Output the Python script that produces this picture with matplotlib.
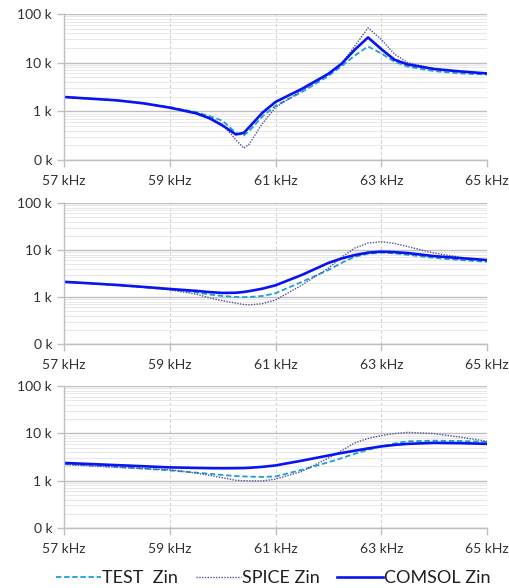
import numpy as np
import matplotlib
matplotlib.use("Agg")
import matplotlib.pyplot as plt
from matplotlib.ticker import FixedLocator, LogLocator, NullFormatter

plt.rcParams['font.family'] = ['Lato', 'DejaVu Sans']

freq = [57, 57.5, 58, 58.5, 59, 59.5, 59.75, 60, 60.25, 60.4, 60.5, 60.75,
        61, 61.5, 62, 62.25, 62.5, 62.75, 63, 63.25, 63.5, 64, 64.5, 65]

# panel 1
test_1 = [1970, 1820, 1690, 1480, 1220, 960, 800, 640, 360, 320, 390, 780,
          1300, 2500, 5300, 8500, 14000, 21500, 15500, 10500, 8300, 6700, 6000, 5700]
spice_1 = [1970, 1820, 1680, 1460, 1200, 940, 760, 540, 260, 175, 210, 560,
           1200, 2700, 5800, 9500, 22000, 52000, 30000, 15000, 10000, 7500, 6500, 6000]
comsol_1 = [1970, 1820, 1680, 1460, 1190, 910, 720, 510, 335, 360, 470, 930,
            1560, 2900, 5900, 9500, 18500, 33000, 19000, 11500, 9200, 7400, 6600, 6000]

# panel 2
test_2 = [2100, 1950, 1800, 1620, 1450, 1250, 1130, 1050, 1000, 990, 1000, 1050,
          1200, 2100, 3750, 5300, 7200, 8300, 8800, 8500, 7900, 6800, 6100, 5600]
spice_2 = [2100, 1950, 1780, 1600, 1420, 1150, 960, 830, 740, 690, 680, 720,
           860, 1800, 4100, 7000, 11000, 14000, 15000, 13800, 11800, 8600, 7000, 6100]
comsol_2 = [2100, 1950, 1800, 1640, 1480, 1350, 1270, 1220, 1230, 1280, 1330, 1500,
            1770, 2950, 5300, 6600, 7800, 8800, 9200, 9000, 8600, 7400, 6700, 6100]

# panel 3
test_3 = [2250, 2100, 1950, 1800, 1650, 1480, 1400, 1320, 1250, 1230, 1220, 1200,
          1230, 1700, 2450, 3000, 3700, 4500, 5300, 6100, 6800, 7000, 6900, 6600]
spice_3 = [2200, 2050, 1920, 1800, 1700, 1450, 1300, 1150, 1020, 1000, 990, 990,
           1080, 1570, 3000, 4300, 6300, 7800, 9000, 9900, 10500, 9900, 8300, 6800]
comsol_3 = [2370, 2250, 2130, 2020, 1910, 1860, 1840, 1830, 1840, 1850, 1870, 1960,
            2100, 2650, 3400, 3850, 4300, 4800, 5300, 5700, 6000, 6300, 6200, 6000]

x_ticks = [57, 59, 61, 63, 65]
x_labels = ["57 kHz", "59 kHz", "61 kHz", "63 kHz", "65 kHz"]
y_ticks = [100, 1000, 10000, 100000]
y_labels = ["0 k", "1 k", "10 k", "100 k"]

panels = [(test_1, spice_1, comsol_1),
          (test_2, spice_2, comsol_2),
          (test_3, spice_3, comsol_3)]

fig = plt.figure(figsize=(5.1, 5.88), dpi=100)
boxes = [(0.1255, 0.7279, 0.8294, 0.2483),
         (0.1255, 0.4150, 0.8294, 0.2398),
         (0.1255, 0.1020, 0.8294, 0.2415)]

grey = "#BFBFBF"
handles = None
for box, (t, s, c) in zip(boxes, panels):
    ax = fig.add_axes(box)
    ax.set_yscale("log")
    ax.set_ylim(100, 100000)
    ax.set_xlim(57, 65)
    ax.yaxis.set_major_locator(FixedLocator(y_ticks))
    ax.set_yticklabels(y_labels)
    ax.yaxis.set_minor_locator(LogLocator(base=10, subs=np.arange(2, 10)))
    ax.yaxis.set_minor_formatter(NullFormatter())
    ax.set_xticks(x_ticks)
    ax.set_xticklabels(x_labels)
    ax.grid(which="major", axis="y", color=grey, lw=1.0)
    ax.grid(which="minor", axis="y", color="#E8E8E8", lw=0.7)
    ax.grid(which="major", axis="x", color="#D0D0D0", lw=0.8, ls=(0, (3, 2)))
    ax.set_axisbelow(True)
    for sp in ["top", "right"]:
        ax.spines[sp].set_visible(False)
    for sp in ["left", "bottom"]:
        ax.spines[sp].set_color(grey)
        ax.spines[sp].set_linewidth(1.0)
    ax.tick_params(axis="both", which="major", colors=grey, labelcolor="#303030",
                   labelsize=10, length=5, width=1)
    ax.tick_params(axis="y", which="minor", length=0)
    ax.tick_params(axis="x", pad=6)
    l1, = ax.plot(freq, t, color="#1E9FDA", lw=1.3, ls=(0, (3, 1.5)), label="TEST  Zin")
    l2, = ax.plot(freq, s, color="#50509A", lw=1.0, ls=(0, (1, 1)), label="SPICE Zin")
    l3, = ax.plot(freq, c, color="#0A14F0", lw=1.9, label="COMSOL Zin")
    handles = [l1, l2, l3]

fig.legend(handles=handles, loc="lower center", bbox_to_anchor=(0.535, -0.025), ncol=3,
           frameon=False, fontsize=13, handlelength=2.5, handletextpad=0.05,
           columnspacing=1.0, labelcolor="#202020")

fig.savefig("out.png", dpi=100)
